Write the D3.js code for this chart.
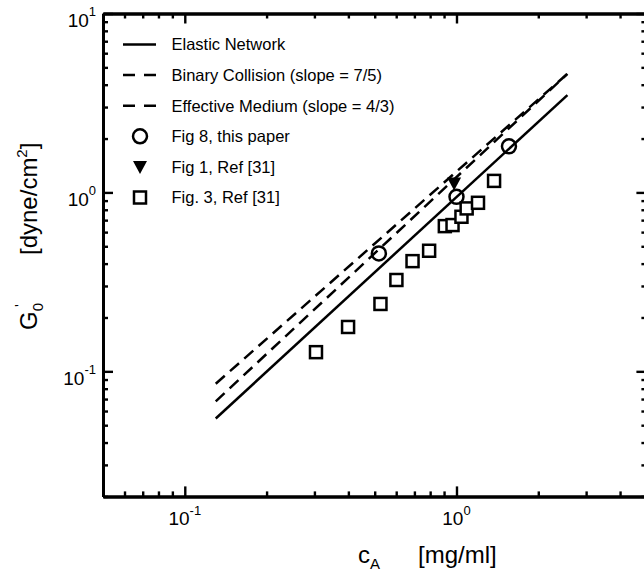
<!DOCTYPE html>
<html>
<head>
<meta charset="utf-8">
<script src="https://cdn.jsdelivr.net/npm/d3@7"></script>
<style>
  body { margin: 0; background: #fff; }
  svg { display: block; }
  text { font-family: "Liberation Sans", Arial, Helvetica, sans-serif; fill: #000; }
</style>
</head>
<body>
<svg id="chart" width="644" height="572"></svg>
<script>
// Model curves: storage modulus G0' vs actin concentration c_A (power laws, endpoints)
const elasticNetwork   = [{ c: 0.13, g: 0.0545 }, { c: 2.56, g: 3.5 }];
const binaryCollision  = [{ c: 0.13, g: 0.068 },  { c: 2.56, g: 4.6 }];
const effectiveMedium  = [{ c: 0.13, g: 0.0853 }, { c: 2.56, g: 4.6 }];

// Measured points
const fig8ThisPaper = [{ c: 0.518, g: 0.456 }, { c: 1.0, g: 0.945 }, { c: 1.56, g: 1.81 }];
const fig1Ref31 = [{ c: 0.98, g: 1.12 }];
const fig3Ref31 = [
  { c: 0.304, g: 0.128 }, { c: 0.399, g: 0.177 }, { c: 0.525, g: 0.238 },
  { c: 0.601, g: 0.324 }, { c: 0.689, g: 0.413 }, { c: 0.793, g: 0.472 },
  { c: 0.906, g: 0.648 }, { c: 0.967, g: 0.657 }, { c: 1.043, g: 0.731 },
  { c: 1.09, g: 0.814 },  { c: 1.20, g: 0.875 },  { c: 1.375, g: 1.16 }
];

// Axis ticks
const xMajorTicks = [0.1, 1];
const xMinorTicks = [0.05, 0.06, 0.07, 0.08, 0.09, 0.2, 0.3, 0.4, 0.5, 0.6, 0.7, 0.8, 0.9, 2, 3, 4];
const yMajorTicks = [0.1, 1, 10];
const yMinorTicks = [0.02, 0.03, 0.04, 0.05, 0.06, 0.07, 0.08, 0.09,
                     0.2, 0.3, 0.4, 0.5, 0.6, 0.7, 0.8, 0.9, 2, 3, 4, 5, 6, 7, 8, 9];
const xTickLabels = [{ v: 0.1, base: "10", exp: "-1" }, { v: 1, base: "10", exp: "0" }];
const yTickLabels = [{ v: 0.1, base: "10", exp: "-1" }, { v: 1, base: "10", exp: "0" }, { v: 10, base: "10", exp: "1" }];

const legendItems = [
  { label: "Elastic Network", kind: "line", dash: null },
  { label: "Binary Collision (slope = 7/5)", kind: "line", dash: "12,7" },
  { label: "Effective Medium (slope = 4/3)", kind: "line", dash: "12,7" },
  { label: "Fig 8, this paper", kind: "circle" },
  { label: "Fig 1, Ref [31]", kind: "triangle" },
  { label: "Fig. 3, Ref [31]", kind: "square" }
];

const svg = d3.select("#chart");
const plotLeft = 103, plotRight = 646.4, plotTop = 13.5, plotBottom = 496.4;

const x = d3.scaleLog().domain([0.05, 5]).range([plotLeft, plotRight]);
const y = d3.scaleLog().domain([0.02, 10]).range([plotBottom, plotTop]);

// ---- axes (frame with inward ticks on all four sides) ----
function styleAxis(g) {
  g.select(".domain").attr("stroke", "#000").attr("stroke-width", 3);
  g.selectAll(".tick line").attr("stroke", "#000").attr("stroke-width", 2.4);
  g.selectAll(".tick text").remove();
}
function addAxis(axisFn, scale, ticks, size, transform) {
  svg.append("g").attr("transform", transform)
    .call(axisFn(scale).tickValues(ticks).tickSize(-size).tickSizeOuter(0))
    .call(styleAxis);
}
addAxis(d3.axisBottom, x, xMajorTicks, 10, `translate(0,${plotBottom})`);
addAxis(d3.axisBottom, x, xMinorTicks, 5, `translate(0,${plotBottom})`);
addAxis(d3.axisTop, x, xMajorTicks, 10, `translate(0,${plotTop})`);
addAxis(d3.axisTop, x, xMinorTicks, 5, `translate(0,${plotTop})`);
addAxis(d3.axisLeft, y, yMajorTicks, 10, `translate(${plotLeft},0)`);
addAxis(d3.axisLeft, y, yMinorTicks, 5, `translate(${plotLeft},0)`);
addAxis(d3.axisRight, y, yMajorTicks, 10, `translate(${plotRight},0)`);
addAxis(d3.axisRight, y, yMinorTicks, 5, `translate(${plotRight},0)`);

// tick labels with superscript exponents
xTickLabels.forEach(t => {
  const tx = svg.append("text").attr("x", x(t.v)).attr("y", 525)
    .attr("text-anchor", "middle").style("font-size", "19px");
  tx.append("tspan").text(t.base);
  tx.append("tspan").attr("dy", -10).style("font-size", "13px").text(t.exp);
});
yTickLabels.forEach(t => {
  const ty = svg.append("text").attr("x", 96).attr("y", y(t.v) + 13.3)
    .attr("text-anchor", "end").style("font-size", "19px");
  ty.append("tspan").text(t.base);
  ty.append("tspan").attr("dy", -11).style("font-size", "13px").text(t.exp);
});

// axis titles
const xt = svg.append("text").attr("x", 358).attr("y", 563).style("font-size", "24px");
xt.append("tspan").text("c");
xt.append("tspan").attr("dy", 6).style("font-size", "15px").text("A");
xt.append("tspan").attr("x", 418).attr("y", 563).text("[mg/ml]");

const yt = svg.append("text").attr("transform", "translate(37,330) rotate(-90)").style("font-size", "24px");
yt.append("tspan").text("G");
yt.append("tspan").attr("dy", 6).style("font-size", "15px").text("0");
yt.append("tspan").attr("dy", -18).attr("dx", -4).style("font-size", "15px").text("'");
yt.append("tspan").attr("x", 75).attr("y", 0).text("[dyne/cm");
yt.append("tspan").attr("dy", -10).style("font-size", "15px").text("2");
yt.append("tspan").attr("dy", 10).text("]");

// ---- model lines ----
const line = d3.line().x(d => x(d.c)).y(d => y(d.g));
const plot = svg.append("g");
plot.append("path").datum(elasticNetwork).attr("d", line)
  .attr("fill", "none").attr("stroke", "#000").attr("stroke-width", 2.5);
plot.append("path").datum(binaryCollision).attr("d", line)
  .attr("fill", "none").attr("stroke", "#000").attr("stroke-width", 2.5).attr("stroke-dasharray", "12,7");
plot.append("path").datum(effectiveMedium).attr("d", line)
  .attr("fill", "none").attr("stroke", "#000").attr("stroke-width", 2.5).attr("stroke-dasharray", "12,7");

// ---- markers ----
const triPath = "M-7,-6 L7,-6 L0,7 Z";
plot.selectAll(".sq").data(fig3Ref31).join("rect")
  .attr("x", d => x(d.c) - 6).attr("y", d => y(d.g) - 6)
  .attr("width", 12).attr("height", 12)
  .attr("fill", "#fff").attr("stroke", "#000").attr("stroke-width", 2.5);
plot.selectAll(".tri").data(fig1Ref31).join("path")
  .attr("transform", d => `translate(${x(d.c)},${y(d.g)})`)
  .attr("d", triPath).attr("fill", "#000");
plot.selectAll(".circ").data(fig8ThisPaper).join("circle")
  .attr("cx", d => x(d.c)).attr("cy", d => y(d.g)).attr("r", 7)
  .attr("fill", "none").attr("stroke", "#000").attr("stroke-width", 2.5);

// ---- legend ----
const lg = svg.append("g");
legendItems.forEach((it, i) => {
  const cy = 44.5 + i * 30.6;
  const sx = 140;
  if (it.kind === "line") {
    lg.append("line").attr("x1", 123).attr("x2", 156).attr("y1", cy).attr("y2", cy)
      .attr("stroke", "#000").attr("stroke-width", 2.5)
      .attr("stroke-dasharray", it.dash ? "12,9" : null);
  } else if (it.kind === "circle") {
    lg.append("circle").attr("cx", sx).attr("cy", cy).attr("r", 7)
      .attr("fill", "none").attr("stroke", "#000").attr("stroke-width", 2.5);
  } else if (it.kind === "triangle") {
    lg.append("path").attr("transform", `translate(${sx},${cy})`).attr("d", triPath).attr("fill", "#000");
  } else {
    lg.append("rect").attr("x", sx - 6).attr("y", cy - 6).attr("width", 12).attr("height", 12)
      .attr("fill", "#fff").attr("stroke", "#000").attr("stroke-width", 2.5);
  }
  lg.append("text").attr("x", 171.5).attr("y", cy + 5.8).style("font-size", "16.5px").text(it.label);
});
</script>
</body>
</html>
